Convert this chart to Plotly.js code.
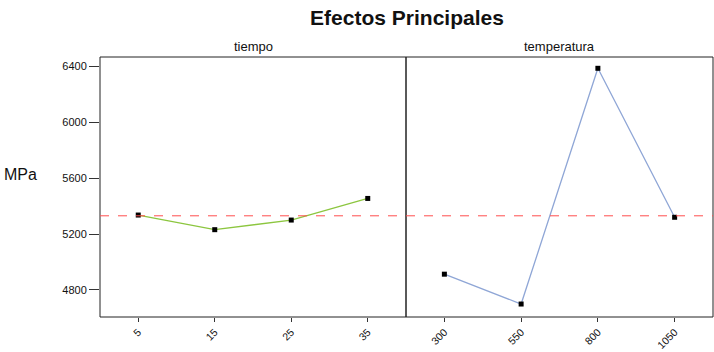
<!DOCTYPE html>
<html><head><meta charset="utf-8">
<script src="https://cdn.plot.ly/plotly-3.0.1.min.js"></script>
<style>html,body{margin:0;padding:0;background:#fff}</style>
</head><body>
<div id="chart" style="width:714px;height:352px"></div>
<script>
const tiempoLevels = ['5', '15', '25', '35'];
const tiempoMeans = [5336, 5231, 5300, 5455];
const tempLevels = ['300', '550', '800', '1050'];
const tempMeans = [4912, 4698, 6388, 5320];
const yTicks = [4800, 5200, 5600, 6000, 6400];
const panelTitles = ['tiempo', 'temperatura'];

const grandMean = tiempoMeans.reduce((a, b) => a + b, 0) / tiempoMeans.length;
const FONT = 'Liberation Sans Narrow, Arial Narrow, Liberation Sans, Arial, sans-serif';

const traces = [
  {x: tiempoLevels, y: tiempoMeans, xaxis: 'x', yaxis: 'y', type: 'scatter', mode: 'lines+markers',
   line: {color: '#8cc63f', width: 1.3}, marker: {symbol: 'square', size: 5, color: '#000'}, hoverinfo: 'x+y'},
  {x: tempLevels, y: tempMeans, xaxis: 'x2', yaxis: 'y', type: 'scatter', mode: 'lines+markers',
   line: {color: '#8fa6d6', width: 1.3}, marker: {symbol: 'square', size: 5, color: '#000'}, hoverinfo: 'x+y'}
];

const xcommon = {type: 'category', range: [-0.5, 3.5], tickangle: -45, ticks: 'outside', ticklen: 4,
  tickcolor: '#333', showgrid: false, zeroline: false, showline: false,
  tickfont: {family: FONT, size: 10.5, color: '#111'}, fixedrange: true};

const layout = {
  width: 714, height: 352,
  margin: {l: 100, r: 1, t: 57, b: 35},
  paper_bgcolor: '#fff', plot_bgcolor: '#fff',
  showlegend: false,
  font: {family: FONT, color: '#111'},
  title: {text: 'Efectos Principales', x: 0.57, xanchor: 'center', y: 0.95, yanchor: 'middle',
          font: {family: FONT, size: 21, color: '#111', weight: 'bold'}},
  xaxis: Object.assign({}, xcommon, {domain: [0, 306 / 613], anchor: 'y'}),
  xaxis2: Object.assign({}, xcommon, {domain: [306 / 613, 1], anchor: 'y'}),
  yaxis: {range: [4605, 6469], tickvals: yTicks, ticktext: yTicks.map(String), ticks: 'outside', ticklen: 10,
          tickcolor: '#333', showgrid: false, zeroline: false, showline: false,
          tickfont: {family: FONT, size: 11, color: '#111'}, fixedrange: true},
  shapes: [
    {type: 'rect', xref: 'x domain', yref: 'y domain', x0: 0, x1: 1, y0: 0, y1: 1, line: {color: '#222', width: 1}},
    {type: 'rect', xref: 'x2 domain', yref: 'y domain', x0: 0, x1: 1, y0: 0, y1: 1, line: {color: '#222', width: 1}},
    {type: 'line', xref: 'paper', yref: 'y', x0: 0, x1: 1, y0: grandMean, y1: grandMean,
     line: {color: '#ff4d4d', width: 1, dash: 'dash'}}
  ],
  annotations: [
    {text: panelTitles[0], xref: 'x domain', yref: 'paper', x: 0.5, y: 1, yanchor: 'bottom', yshift: 1,
     showarrow: false, font: {family: FONT, size: 13, color: '#111'}},
    {text: panelTitles[1], xref: 'x2 domain', yref: 'paper', x: 0.5, y: 1, yanchor: 'bottom', yshift: 1,
     showarrow: false, font: {family: FONT, size: 13, color: '#111'}},
    {text: 'MPa', xref: 'paper', yref: 'paper', x: 0, xshift: -98, xanchor: 'left', y: 0.5, yshift: 13,
     showarrow: false, font: {family: FONT, size: 16, color: '#111'}}
  ]
};

Plotly.newPlot('chart', traces, layout, {displayModeBar: false, staticPlot: true});
</script>
</body></html>
